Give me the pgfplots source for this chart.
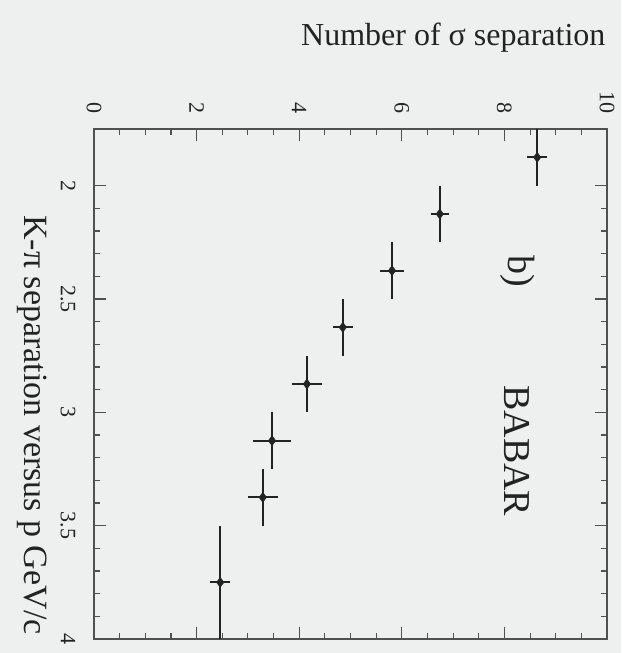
\documentclass[border=0pt]{standalone}
\usepackage{fontspec}
\setmainfont{Liberation Serif}
\usepackage{pgfplots}
\pgfplotsset{compat=1.18}
\usepackage{pgfplotstable}
\definecolor{bg}{RGB}{238,240,240}
\definecolor{ink}{RGB}{35,35,35}
\definecolor{axc}{RGB}{80,80,80}
\pgfplotstableread{
p     s     pe     se
1.875 8.64  0.125  0.20
2.125 6.74  0.125  0.18
2.375 5.81  0.125  0.24
2.625 4.85  0.125  0.20
2.875 4.15  0.125  0.29
3.125 3.47  0.125  0.37
3.375 3.29  0.125  0.29
3.75  2.46  0.25   0.20
}\sepdata
\begin{document}
\begin{tikzpicture}
\fill[bg] (-94pt,-14pt) rectangle (527pt,639pt);
\begin{axis}[
  name=ax, at={(0pt,0pt)}, anchor=south west,
  scale only axis, width=513pt, height=510pt,
  xmin=0, xmax=10, ymin=1.75, ymax=4, y dir=reverse,
  xtick={0,2,...,10}, minor x tick num=3,
  ytick={2,2.5,3,3.5,4}, minor y tick num=4,
  xtick pos=both, ytick pos=both,
  xticklabel pos=right, yticklabel pos=left,
  tick align=inside,
  major tick length=12pt, minor tick length=6pt,
  axis line style={axc, line width=1.4pt},
  every tick/.style={axc, line width=1.1pt},
  /pgf/number format/assume math mode=true,
  tick label style={font=\fontsize{22}{22}\selectfont, text=ink},
  xticklabel style={rotate=-90, anchor=east},
  yticklabel style={rotate=-90, anchor=north},
  xticklabel shift=12pt, yticklabel shift=15pt,
  clip=false,
]
\addplot[ink, only marks, mark=diamond*, mark size=5pt,
  error bars/.cd, x dir=both, x explicit, y dir=both, y explicit,
  error mark=none, error bar style={ink, line width=2.2pt}]
  table[x=s, y=p, x error=se, y error=pe] {\sepdata};
\node[rotate=-90, text=ink, font=\fontsize{38}{38}\selectfont] at (axis cs:8.25,2.38) {b)};
\node[rotate=-90, text=ink, font=\fontsize{38}{38}\selectfont] at (axis cs:8.25,3.17) {BABAR};
\end{axis}
\node[anchor=east, text=ink, font=\fontsize{32}{32}\selectfont] at (515pt,601pt) {Number of σ separation};
\node[rotate=-90, text=ink, font=\fontsize{34}{34}\selectfont] at (-62pt,214pt) {K-π separation versus p GeV/c};
\pgfresetboundingbox
\path (-94pt,-14pt) rectangle (527pt,639pt);
\end{tikzpicture}
\end{document}
